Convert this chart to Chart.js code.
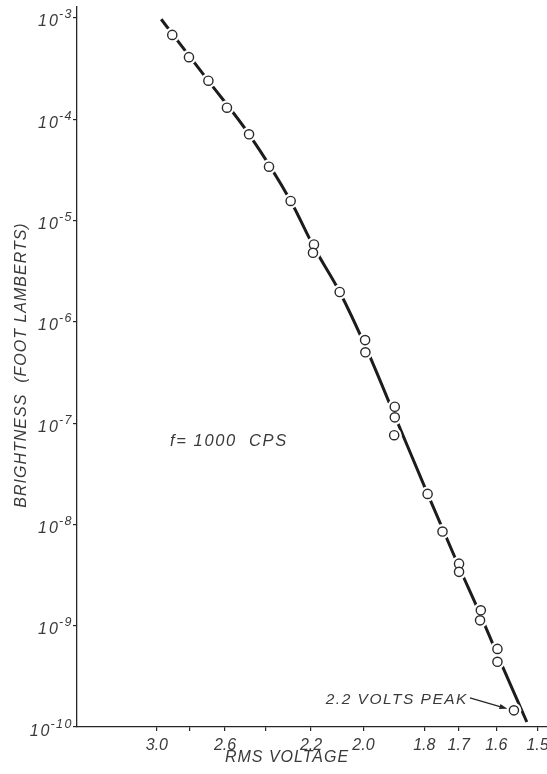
<!DOCTYPE html>
<html>
<head>
<meta charset="utf-8">
<script src="https://cdn.jsdelivr.net/npm/chart.js@4.4.1/dist/chart.umd.min.js"></script>
<style>
  html, body { margin: 0; padding: 0; background: #fff; }
  canvas { display: block; }
</style>
</head>
<body>
<canvas id="brightnessChart" width="547" height="774"></canvas>
<script>
// measured points: rms volts and brightness (foot lamberts)
const pointVolts = [2.902, 2.801, 2.690, 2.590, 2.478, 2.383, 2.286, 2.188, 2.192, 2.087,
                    1.994, 1.993, 1.893, 1.893, 1.895, 1.790, 1.746, 1.699, 1.699, 1.640,
                    1.642, 1.597, 1.597, 1.556];
const pointBrightness = [6.8e-4, 4.1e-4, 2.4e-4, 1.3e-4, 7.1e-5, 3.4e-5, 1.56e-5, 5.8e-6, 4.8e-6, 1.97e-6,
                         6.6e-7, 5.0e-7, 1.45e-7, 1.14e-7, 7.6e-8, 2.0e-8, 8.5e-9, 4.1e-9, 3.4e-9, 1.42e-9,
                         1.13e-9, 5.9e-10, 4.4e-10, 1.46e-10];

// hand drawn curve through the points
const curveVolts = [2.972, 2.690, 2.478, 2.286, 2.189, 2.087, 1.992, 1.893, 1.790, 1.699, 1.641, 1.597, 1.525];
const curveBrightness = [9.7e-4, 2.39e-4, 7.1e-5, 1.56e-5, 5.5e-6, 1.97e-6, 5.65e-7, 1.18e-7, 2.0e-8, 3.8e-9, 1.28e-9, 5.15e-10, 1.12e-10];

// axis ticks
const xTickVolts = [3.0, 2.8, 2.6, 2.4, 2.2, 2.0, 1.8, 1.7, 1.6, 1.5];
const xTickLabels = ['3.0', '', '2.6', '', '2.2', '2.0', '1.8', '1.7', '1.6', '1.5'];
const yTickExponents = [-3, -4, -5, -6, -7, -8, -9, -10];

const peakIndex = pointVolts.length - 1; // the 2.2 volts peak point
const peakLabel = '2.2 VOLTS PEAK';
const freqLabel = 'f= 1000  CPS';
const xTitle = 'RMS VOLTAGE';
const yTitle = 'BRIGHTNESS  (FOOT LAMBERTS)';

// horizontal axis is linear in 1/sqrt(V)
const toU = v => 1 / Math.sqrt(v);

const ink = '#262626';
const textInk = '#3a3a3a';
const family = '"Liberation Sans", Arial, sans-serif';

const curveData = curveVolts.map((v, i) => ({ x: toU(v), y: curveBrightness[i] }));
const pointData = pointVolts.map((v, i) => ({ x: toU(v), y: pointBrightness[i] }));

const lettering = {
    id: 'lettering',
    afterDraw(chart) {
        const { ctx, chartArea, scales } = chart;
        const x = scales.x, y = scales.y;
        ctx.save();
        ctx.fillStyle = textInk;
        ctx.strokeStyle = ink;

        // y tick labels as 10 with a raised exponent
        yTickExponents.forEach(e => {
            const py = y.getPixelForValue(Math.pow(10, e));
            const right = chartArea.left - 4;
            ctx.font = 'italic 12.5px ' + family;
            ctx.letterSpacing = '1.5px';
            ctx.textAlign = 'right';
            ctx.textBaseline = 'alphabetic';
            const exp = String(e);
            const expW = ctx.measureText(exp).width;
            ctx.fillText(exp, right, py + 0.5);
            ctx.font = 'italic 16px ' + family;
            ctx.letterSpacing = '2px';
            ctx.fillText('10', right - expW + 1, py + 8.5);
        });

        // axis titles
        ctx.font = 'italic 16px ' + family;
        ctx.letterSpacing = '1px';
        ctx.textAlign = 'center';
        ctx.textBaseline = 'alphabetic';
        ctx.fillText(xTitle, 287, 762);

        ctx.save();
        ctx.translate(26, 365);
        ctx.rotate(-Math.PI / 2);
        ctx.fillText(yTitle, 0, 0);
        ctx.restore();

        // frequency note
        ctx.font = 'italic 16.5px ' + family;
        ctx.letterSpacing = '1.6px';
        ctx.textAlign = 'left';
        ctx.fillText(freqLabel, chartArea.left + 93, 446);

        // peak annotation with arrow
        const px = x.getPixelForValue(toU(pointVolts[peakIndex]));
        const py = y.getPixelForValue(pointBrightness[peakIndex]);
        ctx.font = 'italic 15.5px ' + family;
        ctx.letterSpacing = '1.5px';
        ctx.textAlign = 'right';
        ctx.fillText(peakLabel, px - 46, py - 6.5);

        const sx = px - 44, sy = py - 12.5;
        const tx = px - 6.5, ty = py - 1.5;
        const ang = Math.atan2(ty - sy, tx - sx);
        ctx.lineWidth = 1.3;
        ctx.beginPath();
        ctx.moveTo(sx, sy);
        ctx.lineTo(tx - 6 * Math.cos(ang), ty - 6 * Math.sin(ang));
        ctx.stroke();
        ctx.fillStyle = ink;
        ctx.beginPath();
        ctx.moveTo(tx, ty);
        ctx.lineTo(tx - 8 * Math.cos(ang) + 2.6 * Math.sin(ang), ty - 8 * Math.sin(ang) - 2.6 * Math.cos(ang));
        ctx.lineTo(tx - 8 * Math.cos(ang) - 2.6 * Math.sin(ang), ty - 8 * Math.sin(ang) + 2.6 * Math.cos(ang));
        ctx.closePath();
        ctx.fill();
        ctx.restore();
    }
};

const axisGrid = { display: true, drawOnChartArea: false, drawTicks: true, tickLength: 4, color: ink, lineWidth: 1.2 };
const axisBorder = { display: true, color: ink, width: 1.3 };

const ctx = document.getElementById('brightnessChart').getContext('2d');
new Chart(ctx, {
    type: 'scatter',
    data: {
        datasets: [
            {
                type: 'line',
                data: curveData,
                borderColor: '#1c1c1c',
                borderWidth: 3,
                pointRadius: 0,
                fill: false,
                cubicInterpolationMode: 'monotone',
                order: 3
            },
            {
                // white ring that breaks the curve around each circle
                data: pointData,
                pointRadius: 7.5,
                pointBackgroundColor: '#fff',
                pointBorderWidth: 0,
                order: 2
            },
            {
                data: pointData,
                pointRadius: 4.6,
                pointBackgroundColor: '#fff',
                pointBorderColor: '#2a2a2a',
                pointBorderWidth: 1.4,
                order: 1
            }
        ]
    },
    options: {
        responsive: false,
        animation: false,
        events: [],
        layout: { autoPadding: false, padding: { top: 7, left: 0, right: 0, bottom: 0 } },
        plugins: {
            legend: { display: false },
            tooltip: { enabled: false }
        },
        scales: {
            x: {
                type: 'linear',
                min: 0.52716,
                max: 0.82245,
                afterBuildTicks: scale => {
                    scale.ticks = xTickVolts.map(v => ({ value: toU(v) }));
                },
                afterFit: scale => {
                    scale.height = 47;
                    scale.paddingLeft = 0;
                    scale.paddingRight = 0;
                },
                ticks: {
                    autoSkip: false,
                    maxRotation: 0,
                    padding: 5,
                    color: textInk,
                    font: { family: family, size: 16, style: 'italic' },
                    callback: (value, index) => xTickLabels[index]
                },
                grid: axisGrid,
                border: axisBorder
            },
            y: {
                type: 'logarithmic',
                min: 1e-10,
                max: 1.282e-3,
                afterBuildTicks: scale => {
                    scale.ticks = yTickExponents.map(e => ({ value: Math.pow(10, e) }));
                },
                afterFit: scale => {
                    scale.width = 77;
                    scale.paddingTop = 0;
                    scale.paddingBottom = 0;
                },
                ticks: { callback: () => '' },
                grid: axisGrid,
                border: axisBorder
            }
        }
    },
    plugins: [lettering]
});
</script>
</body>
</html>
